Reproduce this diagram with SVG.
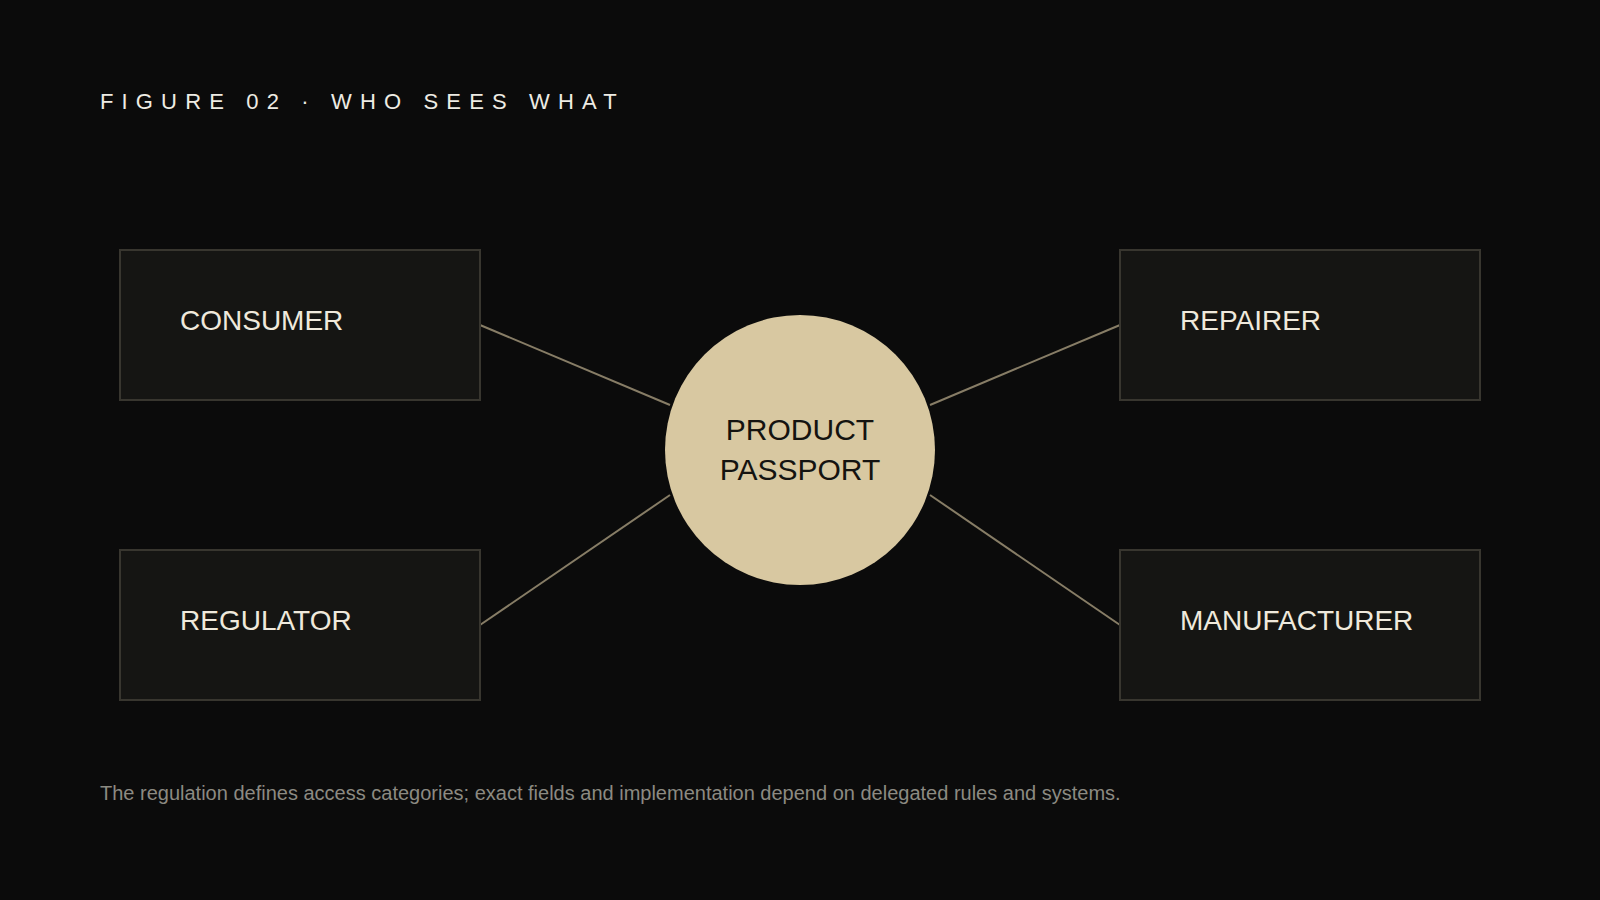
<svg xmlns="http://www.w3.org/2000/svg" width="1600" height="900" viewBox="0 0 1600 900">
<style>
.bg{fill:#0b0b0b}
.box{fill:#151513;stroke:#38362f;stroke-width:2}
.lbl{font-family:"Liberation Sans",Arial,sans-serif;font-size:28px;fill:#efe9dc}
.hub{fill:#d8c8a1}
.hubt{font-family:"Liberation Sans",Arial,sans-serif;font-size:30px;fill:#141310;text-anchor:middle}
.title{font-family:"Liberation Sans",Arial,sans-serif;font-size:22px;fill:#eeece4;letter-spacing:8.15px}
.foot{font-family:"Liberation Sans",Arial,sans-serif;font-size:20px;fill:#8c8a82}
.edge{stroke:#877d66;stroke-width:2;fill:none}
</style>
<rect class="bg" x="0" y="0" width="1600" height="900"/>
<text class="title" x="100" y="109">FIGURE 02 · WHO SEES WHAT</text>
<g id="connectors">
<line class="edge" x1="480" y1="325" x2="670" y2="405"/>
<line class="edge" x1="480" y1="625" x2="670" y2="495"/>
<line class="edge" x1="1120" y1="325" x2="930" y2="405"/>
<line class="edge" x1="1120" y1="625" x2="930" y2="495"/>
</g>
<g id="consumer">
<rect class="box" x="120" y="250" width="360" height="150"/>
<text class="lbl" x="180" y="330">CONSUMER</text>
</g>
<g id="repairer">
<rect class="box" x="1120" y="250" width="360" height="150"/>
<text class="lbl" x="1180" y="330">REPAIRER</text>
</g>
<g id="regulator">
<rect class="box" x="120" y="550" width="360" height="150"/>
<text class="lbl" x="180" y="630">REGULATOR</text>
</g>
<g id="manufacturer">
<rect class="box" x="1120" y="550" width="360" height="150"/>
<text class="lbl" x="1180" y="630">MANUFACTURER</text>
</g>
<g id="passport">
<circle class="hub" cx="800" cy="450" r="135"/>
<text class="hubt" x="800" y="440">PRODUCT</text>
<text class="hubt" x="800" y="480">PASSPORT</text>
</g>
<text class="foot" x="100" y="800">The regulation defines access categories; exact fields and implementation depend on delegated rules and systems.</text>
</svg>
